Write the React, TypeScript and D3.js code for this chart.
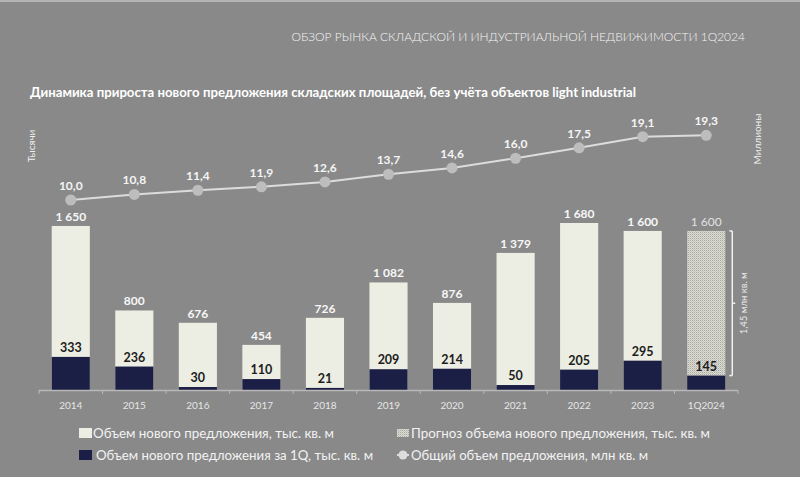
import React from 'react';
import * as d3 from 'd3';

const years = ['2014', '2015', '2016', '2017', '2018', '2019', '2020', '2021', '2022', '2023', '1Q2024'];
const newSupply = [1650, 800, 676, 454, 726, 1082, 876, 1379, 1680, 1600, 1600];
const q1Supply = [333, 236, 30, 110, 21, 209, 214, 50, 205, 295, 145];
const totalStock = [10.0, 10.8, 11.4, 11.9, 12.6, 13.7, 14.6, 16.0, 17.5, 19.1, 19.3];
const forecastIndex = 10;

const legendItems = [
  'Объем нового предложения, тыс. кв. м',
  'Объем нового предложения за 1Q, тыс. кв. м',
  'Прогноз объема нового предложения,  тыс. кв. м',
  'Общий объем предложения, млн кв. м',
];

const W = 800;
const H = 477;
const BG = '#898989';
const LIGHT = '#ecede3';
const DARK = '#1c1f45';
const FONT = 'Lato, "Open Sans", sans-serif';

const fmtThousands = (v: number) => {
  const s = String(v);
  return s.length > 3 ? s.slice(0, s.length - 3) + ' ' + s.slice(-3) : s;
};
const fmtDec = (v: number) => v.toFixed(1).replace('.', ',');

export default function App() {
  const x = d3.scaleBand<string>().domain(years).range([39, 738]).paddingInner(0.4).paddingOuter(0.2);
  const yBar = d3.scaleLinear().domain([0, 1700]).range([390, 221]);
  const yLine = d3.scaleLinear().domain([0, 20]).range([269.6, 130.4]);
  const bw = x.bandwidth();
  const cx = (d: string) => (x(d) as number) + bw / 2;

  const line = d3
    .line<number>()
    .x((_, i) => cx(years[i]))
    .y((d) => yLine(d));

  const step = x.step();
  const boundaries = d3.range(years.length + 1).map((i) => 39 + i * step);

  const bracketX = (x(years[forecastIndex]) as number) + bw + 7;
  const bTop = yBar(newSupply[forecastIndex]);
  const bBot = yBar(q1Supply[forecastIndex]);

  const legendText = (t: string, lx: number, ly: number, len: number) => (
    <text x={lx} y={ly} fill="#f2f2f2" fontFamily={FONT} fontSize={12.5} textLength={len} lengthAdjust="spacingAndGlyphs">
      {t}
    </text>
  );

  return (
    <svg width={W} height={H} style={{ display: 'block', position: 'absolute', left: 0, top: 0 }}>
      <defs>
        <pattern id="hatch" width="2" height="2" patternUnits="userSpaceOnUse">
          <rect width="2" height="2" fill="#dcdcd5" />
          <rect x="0" y="0" width="1" height="1" fill="#a9a9a2" />
          <rect x="1" y="1" width="1" height="1" fill="#c4c4bd" />
        </pattern>
      </defs>
      <rect width={W} height={H} fill={BG} />
      <rect width={W} height={2} fill="#b4b4b4" />

      <text x={745} y={41} textAnchor="end" fill="#f4f4f4" fontFamily={FONT} fontSize={12} fontWeight={300}>
        ОБЗОР РЫНКА СКЛАДСКОЙ И ИНДУСТРИАЛЬНОЙ НЕДВИЖИМОСТИ 1Q2024
      </text>
      <text x={30} y={97} fill="#ffffff" fontFamily={FONT} fontSize={13} fontWeight={700} textLength={606} lengthAdjust="spacingAndGlyphs">
        Динамика прироста нового предложения складских площадей, без учёта объектов light industrial
      </text>

      <text transform="translate(35,146) rotate(-90)" textAnchor="middle" fill="#efefef" fontFamily={FONT} fontSize={10}>
        Тысячи
      </text>
      <text transform="translate(761,139) rotate(-90)" textAnchor="middle" fill="#efefef" fontFamily={FONT} fontSize={10}>
        Миллионы
      </text>

      {/* bars */}
      {years.map((d, i) => {
        const bx = x(d) as number;
        const isF = i === forecastIndex;
        return (
          <g key={d}>
            <rect x={bx} y={yBar(newSupply[i])} width={bw} height={390 - yBar(newSupply[i])} fill={isF ? 'url(#hatch)' : LIGHT} />
            <rect x={bx} y={yBar(q1Supply[i])} width={bw} height={390 - yBar(q1Supply[i])} fill={DARK} />
            <text
              x={cx(d)}
              y={yBar(newSupply[i]) - 5}
              textAnchor="middle"
              fill={isF ? '#e2e2e2' : '#f7f7f7'}
              fontFamily={FONT}
              fontSize={12}
              fontWeight={isF ? 400 : 700}
            >
              {fmtThousands(newSupply[i])}
            </text>
            <text
              x={cx(d)}
              y={yBar(q1Supply[i]) - 5}
              textAnchor="middle"
              fill="#1d1d1d"
              fontFamily={FONT}
              fontSize={12.5}
              fontWeight={700}
            >
              {q1Supply[i]}
            </text>
            <text x={cx(d)} y={409} textAnchor="middle" fill="#e6e6e6" fontFamily={FONT} fontSize={10}>
              {d}
            </text>
          </g>
        );
      })}

      {/* axis */}
      <line x1={39} x2={738} y1={390.5} y2={390.5} stroke="#b9b9b9" strokeWidth={1.5} />
      {boundaries.map((b, i) => (
        <line key={i} x1={b} x2={b} y1={390} y2={394} stroke="#b9b9b9" strokeWidth={1} />
      ))}

      {/* bracket */}
      <g stroke="#f0f0f0" strokeWidth={1.5} fill="none">
        <line x1={bracketX} x2={bracketX} y1={bTop} y2={bBot} />
        <line x1={bracketX - 3} x2={bracketX} y1={bTop} y2={bTop} />
        <line x1={bracketX - 3} x2={bracketX} y1={bBot} y2={bBot} />
        <line x1={bracketX} x2={bracketX + 3} y1={(bTop + bBot) / 2} y2={(bTop + bBot) / 2} />
      </g>
      <text
        transform={`translate(${bracketX + 15},${(bTop + bBot) / 2}) rotate(-90)`}
        textAnchor="middle"
        fill="#eaeaea"
        fontFamily={FONT}
        fontSize={9.5}
      >
        1,45 млн кв. м
      </text>

      {/* line */}
      <path d={line(totalStock) || ''} fill="none" stroke="#dcdcdc" strokeWidth={2} />
      {totalStock.map((v, i) => (
        <g key={i}>
          <circle cx={cx(years[i])} cy={yLine(v)} r={5.5} fill="#bdbdbd" />
          <text x={cx(years[i])} y={yLine(v) - 10} textAnchor="middle" fill="#f5f5f5" fontFamily={FONT} fontSize={12} fontWeight={700}>
            {fmtDec(v)}
          </text>
        </g>
      ))}

      {/* legend */}
      <rect x={79} y={428} width={13} height={10} fill={LIGHT} />
      {legendText(legendItems[0], 93, 438, 241)}
      <rect x={79} y={450} width={13} height={10} fill={DARK} />
      {legendText(legendItems[1], 96, 460, 277)}
      <rect x={397} y={429} width={12} height={8} fill="url(#hatch)" />
      {legendText(legendItems[2], 411, 438, 299)}
      <line x1={397} x2={409} y1={455} y2={455} stroke="#dcdcdc" strokeWidth={2} />
      <circle cx={403} cy={455} r={4.5} fill="#dcdcdc" />
      {legendText(legendItems[3], 411, 460, 237)}
    </svg>
  );
}
